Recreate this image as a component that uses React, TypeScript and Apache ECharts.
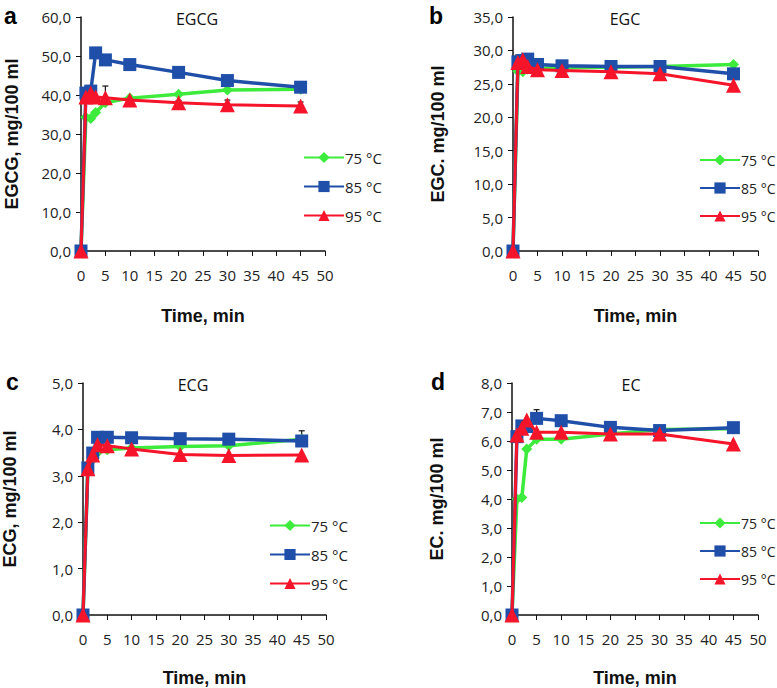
import React, { useEffect, useRef } from "react";
import * as echarts from "echarts";

const times = [0, 1, 2, 3, 5, 10, 20, 30, 45];
const seriesNames = ["75 °C", "85 °C", "95 °C"];

const egcg75 = [0, 34.3, 34.0, 35.5, 38.0, 39.2, 40.2, 41.3, 41.5];
const egcg85 = [0, 40.5, 41.0, 50.8, 49.0, 47.8, 45.8, 43.7, 42.0];
const egcg95 = [0, 39.5, 40.5, 39.5, 39.3, 38.7, 38.0, 37.5, 37.2];
const egcgErr = [0, 0, 0, 0, 3.0, 0.6, 0.6, 1.2, 1.0];

const egc75 = [0, 26.9, 26.8, 27.2, 27.3, 27.4, 27.5, 27.6, 27.9];
const egc85 = [0, 28.3, 28.5, 28.7, 27.9, 27.7, 27.6, 27.6, 26.5];
const egc95 = [0, 28.2, 28.6, 27.6, 27.1, 27.0, 26.8, 26.5, 24.8];
const egcErr = [0, 1.0, 0.6, 0, 0, 0, 0, 0, 0];

const ecg75 = [0, 3.15, 3.35, 3.5, 3.56, 3.6, 3.63, 3.65, 3.79];
const ecg85 = [0, 3.17, 3.49, 3.83, 3.83, 3.82, 3.8, 3.79, 3.75];
const ecg95 = [0, 3.15, 3.45, 3.67, 3.65, 3.58, 3.46, 3.44, 3.45];
const ecgErr = [0, 0, 0, 0, 0, 0, 0, 0, 0.18];

const ec75 = [0, 4.0, 4.05, 5.72, 6.06, 6.06, 6.24, 6.4, 6.42];
const ec85 = [0, 6.15, 6.52, 6.5, 6.78, 6.7, 6.47, 6.36, 6.46];
const ec95 = [0, 6.21, 6.44, 6.72, 6.3, 6.3, 6.24, 6.24, 5.9];
const ecErr = [0, 0, 0, 0, 0.3, 0, 0, 0, 0];

const colors = ["#3DEB3D", "#1F4FA8", "#F5142A"];
const symbols = ["diamond", "rect", "triangle"];
const symbolSizes = [11, 13, 15];

const panels = [
  { letter: "a", title: "EGCG", yName: "EGCG, mg/100 ml", max: 60, interval: 10, data: [egcg75, egcg85, egcg95], err: egcgErr, errOn: 2,
    grid: { left: 81, top: 17, width: 244, height: 234 }, yGap: 60, xGap: 56, legend: { left: 303, top: 150 }, legendFont: 15, letterPos: [10, 17], titleX: 197 },
  { letter: "b", title: "EGC", yName: "EGC. mg/100 ml", max: 35, interval: 5, data: [egc75, egc85, egc95], err: egcErr, errOn: 1,
    grid: { left: 513, top: 17, width: 245, height: 234 }, yGap: 66, xGap: 56, legend: { left: 699, top: 153 }, legendFont: 14, letterPos: [435, 17], titleX: 625 },
  { letter: "c", title: "ECG", yName: "ECG, mg/100 ml", max: 5, interval: 1, data: [ecg75, ecg85, ecg95], err: ecgErr, errOn: 0,
    grid: { left: 82, top: 383, width: 244, height: 234 }, yGap: 64, xGap: 54, legend: { left: 269, top: 518 }, legendFont: 15, letterPos: [12, 383], titleX: 193 },
  { letter: "d", title: "EC", yName: "EC. mg/100 ml", max: 8, interval: 1, data: [ec75, ec85, ec95], err: ecErr, errOn: 1,
    grid: { left: 512, top: 383, width: 246, height: 234 }, yGap: 66, xGap: 54, legend: { left: 699, top: 516 }, legendFont: 14, letterPos: [437, 383], titleX: 631 },
];

const fmt = (v: number) => v.toFixed(1).replace(".", ",");

export default function App() {
  const ref = useRef<HTMLDivElement>(null);
  useEffect(() => {
    if (!ref.current) return;
    const chart = echarts.init(ref.current, undefined, { renderer: "svg" });
    const grids: any[] = [];
    const xAxes: any[] = [];
    const yAxes: any[] = [];
    const series: any[] = [];
    const legends: any[] = [];
    const graphics: any[] = [];
    panels.forEach((p, i) => {
      grids.push({ ...p.grid, containLabel: false });
      xAxes.push({
        type: "value", gridIndex: i, min: 0, max: 50, interval: 5,
        name: "Time, min", nameLocation: "middle", nameGap: p.xGap,
        nameTextStyle: { fontFamily: "Liberation Sans", fontWeight: "bold", fontSize: 18, color: "#111" },
        axisLine: { lineStyle: { color: "#111", width: 1.5 } },
        axisTick: { length: 5, lineStyle: { color: "#111" } },
        axisLabel: { margin: 16, fontFamily: "Open Sans", fontSize: 15, color: "#222" },
        splitLine: { show: false },
      });
      yAxes.push({
        type: "value", gridIndex: i, min: 0, max: p.max, interval: p.interval,
        name: p.yName, nameLocation: "middle", nameGap: p.yGap, nameRotate: 90,
        nameTextStyle: { fontFamily: "Liberation Sans", fontWeight: "bold", fontSize: 18, color: "#111" },
        axisLine: { show: true, lineStyle: { color: "#111", width: 1.5 } },
        axisTick: { show: true, length: 5, lineStyle: { color: "#111" } },
        axisLabel: { margin: 10, fontFamily: "Open Sans", fontSize: 15, color: "#222", formatter: fmt },
        splitLine: { show: false },
      });
      p.data.forEach((vals, k) => {
        series.push({
          type: "line", name: seriesNames[k], xAxisIndex: i, yAxisIndex: i,
          data: times.map((t, j) => [t, vals[j]]),
          symbol: symbols[k], symbolSize: symbolSizes[k], clip: false,
          itemStyle: { color: colors[k] },
          lineStyle: { color: colors[k], width: k === 2 ? 3 : 3.5 },
          z: 3 + k,
        });
      });
      const base = p.data[p.errOn];
      series.push({
        type: "custom", xAxisIndex: i, yAxisIndex: i, z: 2,
        data: times.map((t, j) => [t, base[j], base[j] + p.err[j]]).filter((d, j) => p.err[j] > 0),
        renderItem: (params: any, api: any) => {
          const lo = api.coord([api.value(0), api.value(1)]);
          const hi = api.coord([api.value(0), api.value(2)]);
          const st = { stroke: "#111", lineWidth: 1.2 };
          return {
            type: "group",
            children: [
              { type: "line", shape: { x1: lo[0], y1: lo[1], x2: hi[0], y2: hi[1] }, style: st },
              { type: "line", shape: { x1: hi[0] - 3, y1: hi[1], x2: hi[0] + 3, y2: hi[1] }, style: st },
            ],
          };
        },
        silent: true,
      });
      legends.push({
        data: seriesNames, orient: "vertical", left: p.legend.left, top: p.legend.top,
        itemWidth: 40, itemHeight: 14, itemGap: 14, padding: 0,
        textStyle: { fontFamily: "Open Sans", fontSize: p.legendFont, color: "#222", padding: [0, 0, 0, -4] },
        selectedMode: false,
      });
      graphics.push({
        type: "text", left: p.letterPos[0] - 6, top: p.letterPos[1] - 13,
        style: { text: p.letter, font: "bold 23px Liberation Sans", fill: "#000" },
      });
      graphics.push({
        type: "text", x: p.titleX, y: p.grid.top + 2,
        style: { text: p.title, font: "16px Open Sans", fill: "#111", align: "center", verticalAlign: "middle" },
      });
    });
    chart.setOption({
      animation: false,
      backgroundColor: "#fff",
      grid: grids,
      xAxis: xAxes,
      yAxis: yAxes,
      series,
      legend: legends,
      graphic: graphics,
    });
    return () => chart.dispose();
  }, []);
  return <div ref={ref} style={{ width: 777, height: 688, position: "absolute", left: 0, top: 0 }} />;
}
